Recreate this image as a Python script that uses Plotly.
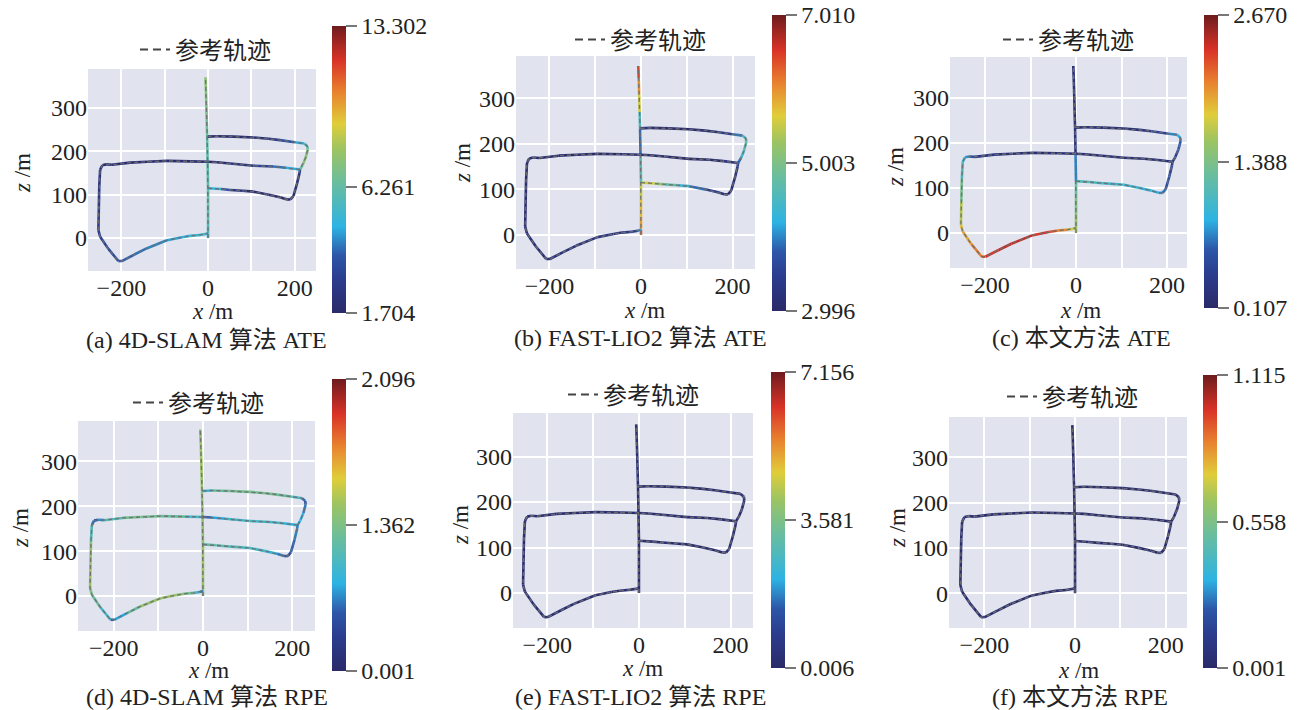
import plotly.graph_objects as go
from plotly.colors import sample_colorscale

SERIF = "Liberation Serif, Times New Roman, Noto Sans CJK SC, serif"
W, H = 1303, 710

# ---------------- trajectory geometry (metres) ----------------
VERT_X = [0, 0, 0, 0, 0, -1, -2, -3, -4, -5, -6]
VERT_Z = [0, 11, 40, 80, 115, 176, 234, 270, 310, 345, 371]
LOWER_X = [0, 30, 51, 80, 105, 140, 166, 182, 190, 197, 205, 211, 212]
LOWER_Z = [115, 113, 111, 109, 107, 100, 94, 89, 89, 97, 125, 150, 158]
MIDDLE_X = [212, 180, 150, 105, 51, 20, 0]
MIDDLE_Z = [158, 162, 165, 167, 172, 175, 176]
UPPER_X = [-1, 20, 60, 105, 140, 166, 200, 222, 229, 230, 225, 218, 212]
UPPER_Z = [234, 235, 234, 232, 229, 226, 221, 218, 212, 204, 185, 168, 158]
LEFT_X = [0, -40, -95, -140, -180, -222, -235, -244, -249, -251, -252, -253,
          -249, -230, -207, -199, -170, -142, -95, -60, -42, -20, -7, 0]
LEFT_Z = [176, 177, 178, 176, 174, 169, 170, 168, 158, 120, 70, 18,
          3, -25, -53, -53, -38, -24, -5, 2, 5, 7, 9, 11]

# ---------------- error values along trajectory ----------------
# (a) 4D-SLAM ATE
A_VERT = [5.5, 6.0, 6.5, 6.8, 6.8, 6.5, 6.8, 7.2, 7.5, 7.8, 8.0]
A_LOWER = [6.0, 5.0, 3.0, 2.2, 2.0, 2.0, 2.0, 2.0, 2.0, 2.0, 2.2, 2.5, 3.0]
A_MIDDLE = [5.5, 4.8, 4.0, 2.8, 2.0, 2.0, 2.0]
A_UPPER = [2.0, 2.0, 2.0, 2.0, 2.5, 3.0, 4.5, 5.8, 6.5, 7.5, 8.0, 7.5, 6.5]
A_LEFT = [2.0, 2.0, 2.0, 2.0, 2.0, 2.0, 2.0, 2.2, 2.3, 2.5, 2.8, 3.0,
          3.2, 3.5, 3.8, 4.0, 4.3, 4.5, 4.8, 5.2, 5.5, 5.8, 5.8, 5.5]
# (b) FAST-LIO2 ATE
B_VERT = [6.5, 6.0, 5.8, 5.7, 5.3, 4.0, 3.8, 5.3, 5.8, 6.2, 6.6]
B_LOWER = [5.7, 5.4, 5.0, 4.5, 4.2, 3.6, 3.3, 3.1, 3.1, 3.1, 3.2, 3.3, 3.4]
B_MIDDLE = [3.4, 3.1, 3.05, 3.05, 3.05, 3.1, 3.2]
B_UPPER = [3.5, 3.1, 3.05, 3.05, 3.1, 3.2, 3.6, 4.3, 4.7, 4.8, 4.6, 4.2, 3.6]
B_LEFT = [3.2, 3.1, 3.05, 3.05, 3.05, 3.05, 3.1, 3.1, 3.1, 3.1, 3.1, 3.1,
          3.2, 3.2, 3.2, 3.2, 3.2, 3.2, 3.3, 3.3, 3.3, 3.4, 3.6, 4.5]
# (c) proposed ATE
C_VERT = [1.7, 1.6, 1.45, 1.35, 1.2, 0.3, 0.2, 0.2, 0.2, 0.2, 0.2]
C_LOWER = [1.15, 1.1, 1.05, 1.0, 1.0, 0.95, 0.9, 0.8, 0.75, 0.65, 0.5, 0.4, 0.35]
C_MIDDLE = [0.3, 0.2, 0.2, 0.2, 0.2, 0.2, 0.2]
C_UPPER = [0.2, 0.2, 0.2, 0.2, 0.25, 0.3, 0.6, 0.9, 0.85, 0.7, 0.5, 0.4, 0.35]
C_LEFT = [0.2, 0.2, 0.2, 0.2, 0.25, 0.4, 0.7, 0.9, 1.0, 1.2, 1.5, 1.8,
          1.9, 2.0, 2.2, 2.3, 2.4, 2.45, 2.4, 2.3, 2.2, 1.9, 1.6, 1.6]
# (d) 4D-SLAM RPE
D_VERT = [1.0, 1.1, 1.2, 1.2, 1.15, 1.1, 1.15, 1.2, 1.2, 1.15, 1.1]
D_LOWER = [0.9, 0.9, 0.85, 0.8, 0.8, 0.7, 0.6, 0.4, 0.35, 0.4, 0.5, 0.55, 0.5]
D_MIDDLE = [0.5, 0.8, 0.7, 0.8, 0.7, 0.5, 0.4]
D_UPPER = [0.5, 0.9, 1.0, 1.0, 1.0, 1.0, 0.9, 0.6, 0.35, 0.4, 0.6, 0.7, 0.6]
D_LEFT = [0.6, 0.9, 1.0, 1.0, 1.0, 0.7, 0.4, 0.35, 0.6, 1.1, 1.2, 1.2,
          0.9, 1.0, 0.5, 0.4, 0.8, 1.1, 1.2, 1.15, 1.1, 0.9, 0.6, 0.4]
# (e) FAST-LIO2 RPE
E_VERT = [0.3, 0.25, 0.2, 0.2, 0.2, 0.2, 0.2, 0.25, 0.3, 0.3, 0.3]
E_LOWER = [0.2, 0.15, 0.15, 0.15, 0.15, 0.15, 0.15, 0.2, 0.2, 0.2, 0.15, 0.15, 0.15]
E_MIDDLE = [0.15, 0.15, 0.15, 0.15, 0.15, 0.15, 0.15]
E_UPPER = [0.2, 0.15, 0.15, 0.15, 0.15, 0.15, 0.15, 0.2, 0.25, 0.2, 0.15, 0.15, 0.15]
E_LEFT = [0.15, 0.15, 0.15, 0.15, 0.15, 0.2, 0.25, 0.25, 0.2, 0.15, 0.15, 0.2,
          0.25, 0.2, 0.25, 0.25, 0.2, 0.15, 0.15, 0.15, 0.15, 0.15, 0.2, 0.3]
# (f) proposed RPE
F_VERT = [0.03, 0.03, 0.02, 0.02, 0.02, 0.02, 0.02, 0.02, 0.02, 0.02, 0.03]
F_LOWER = [0.02] * 13
F_MIDDLE = [0.02] * 7
F_UPPER = [0.02, 0.02, 0.02, 0.02, 0.02, 0.02, 0.02, 0.03, 0.03, 0.03, 0.02, 0.02, 0.02]
F_LEFT = [0.02, 0.02, 0.02, 0.02, 0.02, 0.03, 0.03, 0.03, 0.02, 0.02, 0.02, 0.03,
          0.03, 0.02, 0.03, 0.03, 0.02, 0.02, 0.02, 0.02, 0.02, 0.02, 0.03, 0.03]

# colour bar limits and labels
CB_MIN = [1.704, 2.996, 0.107, 0.001, 0.006, 0.001]
CB_MAX = [13.302, 7.010, 2.670, 2.096, 7.156, 1.115]
CB_LABELS = [["1.704", "6.261", "13.302"], ["2.996", "5.003", "7.010"],
             ["0.107", "1.388", "2.670"], ["0.001", "1.362", "2.096"],
             ["0.006", "3.581", "7.156"], ["0.001", "0.558", "1.115"]]
CAPTIONS = ["(a) 4D-SLAM 算法 ATE", "(b) FAST-LIO2 算法 ATE", "(c) 本文方法 ATE",
            "(d) 4D-SLAM 算法 RPE", "(e) FAST-LIO2 算法 RPE", "(f) 本文方法 RPE"]
X_TICKS = [-200, -100, 0, 100, 200]
X_TICKTEXT = ["\u2212200", "", "0", "", "200"]
Y_TICKS = [0, 100, 200, 300]

ERRS = [
    [A_VERT, A_LOWER, A_MIDDLE, A_UPPER, A_LEFT],
    [B_VERT, B_LOWER, B_MIDDLE, B_UPPER, B_LEFT],
    [C_VERT, C_LOWER, C_MIDDLE, C_UPPER, C_LEFT],
    [D_VERT, D_LOWER, D_MIDDLE, D_UPPER, D_LEFT],
    [E_VERT, E_LOWER, E_MIDDLE, E_UPPER, E_LEFT],
    [F_VERT, F_LOWER, F_MIDDLE, F_UPPER, F_LEFT],
]
PIECES = [(VERT_X, VERT_Z), (LOWER_X, LOWER_Z), (MIDDLE_X, MIDDLE_Z),
          (UPPER_X, UPPER_Z), (LEFT_X, LEFT_Z)]

CS = [
    [0.00, "rgb(42,42,104)"],
    [0.12, "rgb(43,61,143)"],
    [0.20, "rgb(45,86,168)"],
    [0.30, "rgb(45,179,227)"],
    [0.45, "rgb(104,189,160)"],
    [0.57, "rgb(156,196,98)"],
    [0.66, "rgb(224,205,58)"],
    [0.77, "rgb(232,130,47)"],
    [0.88, "rgb(217,51,39)"],
    [1.00, "rgb(110,27,30)"],
]

# ---------------- layout geometry (pixels) ----------------
BOX = [(88, 316, 69, 271), (516, 755, 56, 269), (950, 1187, 57, 268),
       (78, 315, 421, 631), (513, 753, 413, 628), (949, 1187, 417, 628)]
XR = [[-277, 249], [-273, 249], [-277, 244], [-280, 251], [-275, 249], [-278, 247]]
YR = [[-76, 390], [-75, 393], [-78, 391], [-78, 390], [-77, 396], [-77, 389]]
CBAR = [(332, 26, 313), (772, 15, 311), (1204, 15, 308),
        (332, 379, 671), (771, 372, 668), (1203, 375, 668)]
MID_FRAC = [0.44, 0.5, 0.5, 0.5, 0.5, 0.5]
LEG = [(140, 50), (575, 40), (1003, 40), (133, 403), (568, 395), (1007, 397)]
CAP = [(206, 340), (640, 338), (1081, 338), (207, 697), (640, 697), (1080, 697)]
XT = [(212, 311), (644, 310), (1080, 310), (208, 670), (642, 668), (1078, 670)]
ZT = [(22, 173), (462, 163), (895, 167), (20, 528), (460, 525), (897, 528)]

TICK_FS = 24
CAP_FS = 24
LEG_FS = 24

fig = go.Figure()
layout = dict(width=W, height=H, margin=dict(l=0, r=0, t=0, b=0),
              paper_bgcolor="white", plot_bgcolor="#E1E3EE", showlegend=True,
              font=dict(family=SERIF, color="#222222"))
annotations = []

for k in range(6):
    sfx = "" if k == 0 else str(k + 1)
    xa, ya = "x" + sfx, "y" + sfx
    l, r, t, b = BOX[k]
    cmin, cmax = CB_MIN[k], CB_MAX[k]

    # colored trajectory, grouped by colour
    groups = {}
    for (px, pz), pe in zip(PIECES, ERRS[k]):
        for i in range(len(px) - 1):
            v = 0.5 * (pe[i] + pe[i + 1])
            tt = min(max((v - cmin) / (cmax - cmin), 0.0), 1.0)
            c = sample_colorscale(CS, [tt])[0]
            g = groups.setdefault(c, ([], []))
            g[0].extend([px[i], px[i + 1], None])
            g[1].extend([pz[i], pz[i + 1], None])
    for c, (gx, gz) in groups.items():
        fig.add_trace(go.Scatter(x=gx, y=gz, mode="lines", xaxis=xa, yaxis=ya,
                                 line=dict(color=c, width=2.6), showlegend=False,
                                 hoverinfo="skip"))
    # reference (dashed)
    for px, pz in PIECES:
        fig.add_trace(go.Scatter(x=px, y=pz, mode="lines", xaxis=xa, yaxis=ya,
                                 line=dict(color="rgba(110,110,110,0.9)", width=1.4,
                                           dash="4px,3px"),
                                 showlegend=False, hoverinfo="skip"))
    # legend entry
    legname = "legend" if k == 0 else f"legend{k + 1}"
    fig.add_trace(go.Scatter(x=[None], y=[None], mode="lines", xaxis=xa, yaxis=ya,
                             line=dict(color="#444444", width=2, dash="8px,5px"),
                             name="参考轨迹", legend=legname, showlegend=True))
    lx, ly = LEG[k]
    layout[legname] = dict(x=(lx - 5) / W, y=1 - ly / H, xanchor="left", yanchor="middle",
                           bgcolor="rgba(0,0,0,0)", borderwidth=0,
                           font=dict(size=LEG_FS, family=SERIF, color="#222222"))
    # colour bar
    cl, ct, cb = CBAR[k]
    mid = cmin + MID_FRAC[k] * (cmax - cmin)
    fig.add_trace(go.Scatter(
        x=[0], y=[0], mode="markers", xaxis=xa, yaxis=ya, showlegend=False,
        hoverinfo="skip",
        marker=dict(size=1, opacity=0, color=[cmin], cmin=cmin, cmax=cmax,
                    colorscale=CS, showscale=True,
                    colorbar=dict(x=cl / W, xanchor="left", y=1 - ct / H, yanchor="top",
                                  len=(cb - ct) / H, lenmode="fraction",
                                  thickness=14, thicknessmode="pixels",
                                  xpad=0, ypad=0, outlinewidth=0,
                                  ticks="outside", ticklen=11, tickwidth=1.5,
                                  tickcolor="#777777",
                                  tickvals=[cmin, mid, cmax], ticktext=CB_LABELS[k],
                                  tickfont=dict(size=24, family=SERIF, color="#222222")))))

    axkey = "xaxis" if k == 0 else f"xaxis{k + 1}"
    aykey = "yaxis" if k == 0 else f"yaxis{k + 1}"
    layout[axkey] = dict(domain=[l / W, r / W], range=XR[k], anchor=ya,
                         tickvals=X_TICKS, ticktext=X_TICKTEXT, showgrid=True,
                         gridcolor="white", gridwidth=1.5, zeroline=False, showline=False,
                         ticks="", tickfont=dict(size=TICK_FS, family=SERIF, color="#222222"))
    layout[aykey] = dict(domain=[1 - b / H, 1 - t / H], range=YR[k], anchor=xa,
                         tickvals=Y_TICKS, showgrid=True, gridcolor="white", gridwidth=1.5,
                         zeroline=False, showline=False, ticks="",
                         tickfont=dict(size=TICK_FS, family=SERIF, color="#222222"))

    cx, cy = CAP[k]
    annotations.append(dict(text=CAPTIONS[k], x=cx / W, y=1 - cy / H, xref="paper",
                            yref="paper", xanchor="center", yanchor="middle",
                            showarrow=False,
                            font=dict(size=CAP_FS, family=SERIF, color="#222222")))
    tx, ty = XT[k]
    annotations.append(dict(text="<i>x</i> /m", x=tx / W, y=1 - ty / H, xref="paper",
                            yref="paper", xanchor="center", yanchor="middle",
                            showarrow=False,
                            font=dict(size=23, family=SERIF, color="#222222")))
    zx, zy = ZT[k]
    annotations.append(dict(text="<i>z</i> /m", x=zx / W, y=1 - zy / H, xref="paper",
                            yref="paper", xanchor="center", yanchor="middle",
                            textangle=-90, showarrow=False,
                            font=dict(size=23, family=SERIF, color="#222222")))

layout["annotations"] = annotations
fig.update_layout(**layout)
fig.write_html("out.html")
